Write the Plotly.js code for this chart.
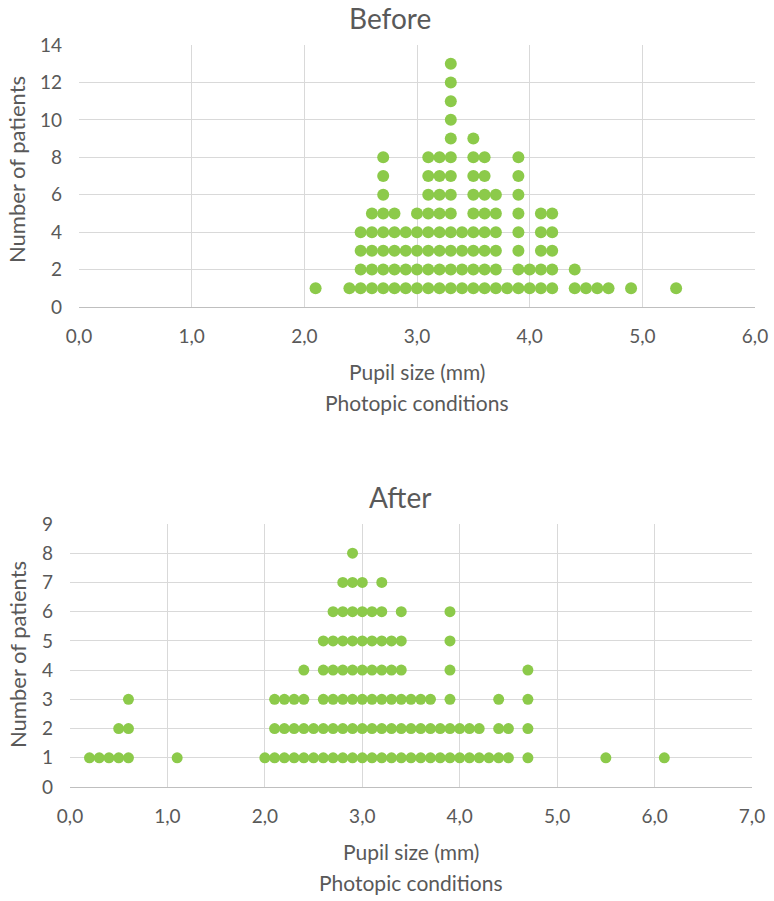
<!DOCTYPE html>
<html>
<head>
<meta charset="utf-8">
<script src="https://cdn.plot.ly/plotly-3.0.1.min.js"></script>
<style>
  html, body { margin: 0; padding: 0; background: #ffffff; }
  #chart { width: 774px; height: 901px; }
</style>
</head>
<body>
<div id="chart"></div>
<script>
// pupil size (mm) -> number of patients
const beforeSizes = [2.1, 2.4, 2.5, 2.6, 2.7, 2.8, 2.9, 3.0, 3.1, 3.2, 3.3, 3.4, 3.5, 3.6, 3.7, 3.8, 3.9, 4.0, 4.1, 4.2, 4.4, 4.5, 4.6, 4.7, 4.9, 5.3];
const beforeCounts = [1, 1, 4, 5, 8, 5, 4, 5, 8, 8, 13, 4, 9, 8, 6, 1, 8, 2, 5, 5, 2, 1, 1, 1, 1, 1];

const afterSizes = [0.2, 0.3, 0.4, 0.5, 0.6, 1.1, 2.0, 2.1, 2.2, 2.3, 2.4, 2.5, 2.6, 2.7, 2.8, 2.9, 3.0, 3.1, 3.2, 3.3, 3.4, 3.5, 3.6, 3.7, 3.8, 3.9, 4.0, 4.1, 4.2, 4.3, 4.4, 4.5, 4.7, 5.5, 6.1];
const afterCounts = [1, 1, 1, 2, 3, 1, 1, 3, 3, 3, 4, 2, 5, 6, 7, 8, 7, 6, 7, 5, 6, 3, 3, 3, 2, 6, 2, 2, 2, 1, 3, 2, 4, 1, 1];

const beforeXTicks = [0, 1, 2, 3, 4, 5, 6];
const beforeYTicks = [0, 2, 4, 6, 8, 10, 12, 14];
const afterXTicks = [0, 1, 2, 3, 4, 5, 6, 7];
const afterYTicks = [0, 1, 2, 3, 4, 5, 6, 7, 8, 9];

const W = 774;
const H = 901;
const dotColor = "#8cca4a";
const gridColor = "#d9d9d9";
const textColor = "#595959";
const fontFamily = "Lato, 'Open Sans', sans-serif";

// one marker per patient, stacked upward in each size column
function stackDots(sizes, counts) {
  const x = [];
  const y = [];
  sizes.forEach((s, i) => {
    for (let k = 1; k <= counts[i]; k++) {
      x.push(s);
      y.push(k);
    }
  });
  return { x, y };
}

const px = (v) => v / W;
const py = (v) => 1 - v / H;

const before = stackDots(beforeSizes, beforeCounts);
const after = stackDots(afterSizes, afterCounts);

const traces = [
  {
    x: before.x, y: before.y, xaxis: "x", yaxis: "y",
    type: "scatter", mode: "markers",
    marker: { color: dotColor, size: 12 },
    hoverinfo: "skip"
  },
  {
    x: after.x, y: after.y, xaxis: "x2", yaxis: "y2",
    type: "scatter", mode: "markers",
    marker: { color: dotColor, size: 11 },
    hoverinfo: "skip"
  }
];

function xAxis(domain, ticks, anchor) {
  return {
    domain, anchor,
    range: [ticks[0], ticks[ticks.length - 1]],
    tickvals: ticks, tickformat: ".1f",
    showgrid: true, gridcolor: gridColor, gridwidth: 1,
    showline: true, linecolor: "#bfbfbf", linewidth: 1,
    zeroline: false, ticks: "", ticklabelstandoff: 12,
    tickfont: { size: 19, color: textColor, family: fontFamily },
    fixedrange: true
  };
}

function yAxis(domain, ticks, anchor) {
  return {
    domain, anchor,
    range: [ticks[0], ticks[ticks.length - 1]],
    tickvals: ticks,
    showgrid: true, gridcolor: gridColor, gridwidth: 1,
    showline: false, zeroline: false, ticks: "", ticklabelstandoff: 16,
    tickfont: { size: 19, color: textColor, family: fontFamily },
    fixedrange: true
  };
}

function label(text, x, y, size, angle) {
  return {
    text, xref: "paper", yref: "paper",
    x: px(x), y: py(y), xanchor: "center", yanchor: "middle",
    showarrow: false, textangle: angle || 0,
    font: { size, color: textColor, family: fontFamily }
  };
}

const layout = {
  width: W, height: H,
  margin: { l: 0, r: 0, t: 0, b: 0 },
  paper_bgcolor: "#ffffff", plot_bgcolor: "#ffffff",
  showlegend: false,
  separators: ", ",
  xaxis: xAxis([px(79), px(755)], beforeXTicks, "y"),
  yaxis: yAxis([py(307), py(45)], beforeYTicks, "x"),
  xaxis2: xAxis([px(70), px(752)], afterXTicks, "y2"),
  yaxis2: yAxis([py(787), py(524)], afterYTicks, "x2"),
  annotations: [
    label("Before", 390, 18, 28),
    label("Number of patients", 17, 170, 22, -90),
    label("Pupil size (mm)", 417, 371, 21),
    label("Photopic conditions", 417, 402, 21),
    label("After", 400, 497, 28),
    label("Number of patients", 17, 655, 22, -90),
    label("Pupil size (mm)", 411, 851, 21),
    label("Photopic conditions", 411, 882, 21)
  ]
};

Plotly.newPlot("chart", traces, layout, { displayModeBar: false, staticPlot: true });
</script>
</body>
</html>
